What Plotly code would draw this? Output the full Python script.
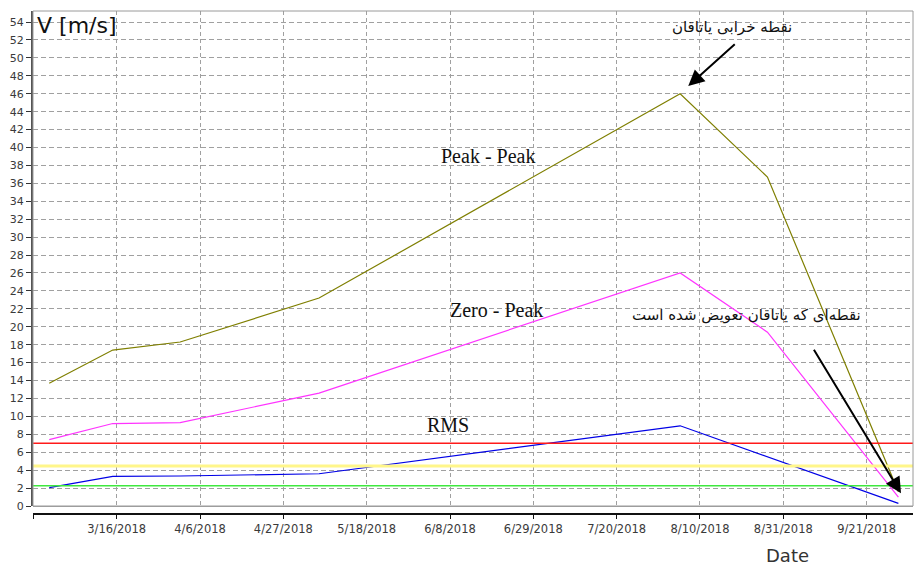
import plotly.graph_objects as go

# Measurement dates and vibration velocity readings
dates = ["2018-02-27", "2018-03-15", "2018-04-01", "2018-05-06",
         "2018-08-05", "2018-08-27", "2018-09-29"]
peak_peak = [13.7, 17.4, 18.3, 23.2, 46.0, 36.7, 1.6]
zero_peak = [7.4, 9.2, 9.3, 12.6, 26.0, 19.4, 1.0]
rms = [2.05, 3.3, 3.35, 3.6, 8.95, 5.5, 0.3]

# Alarm levels
alarm_red = 7.0
alarm_yellow = 4.45
alarm_green = 2.25

# Date axis ticks (every 21 days)
tick_dates = ["2018-02-23", "2018-03-16", "2018-04-06", "2018-04-27", "2018-05-18",
              "2018-06-08", "2018-06-29", "2018-07-20", "2018-08-10", "2018-08-31",
              "2018-09-21"]
tick_labels = ["", "3/16/2018", "4/6/2018", "4/27/2018", "5/18/2018", "6/8/2018",
               "6/29/2018", "7/20/2018", "8/10/2018", "8/31/2018", "9/21/2018"]

W, H = 914, 565
ML, MR, MT, MB = 33, 1, 11, 51
plot_h = H - MT - MB
gap_px = 8  # space between the zero line and the date axis


def px_x(px):
    return (px - ML) / (W - ML - MR)


def px_y(py):
    return (H - MB - py) / plot_h


fig = go.Figure()

# alarm levels drawn first so the measurement lines sit on top
for level, color, width in [(alarm_red, "#ff1a1a", 1.5),
                            (alarm_yellow, "#fff68a", 3),
                            (alarm_green, "#3ee83e", 1.5)]:
    fig.add_shape(type="line", xref="x domain", x0=0, x1=1, yref="y", y0=level, y1=level,
                  line=dict(color=color, width=width), layer="above")

fig.add_trace(go.Scatter(x=dates, y=peak_peak, mode="lines", name="Peak - Peak",
                         line=dict(color="#7f7f00", width=1.2)))
fig.add_trace(go.Scatter(x=dates, y=zero_peak, mode="lines", name="Zero - Peak",
                         line=dict(color="#ff33ff", width=1.2)))
fig.add_trace(go.Scatter(x=dates, y=rms, mode="lines", name="RMS",
                         line=dict(color="#0000e6", width=1.2)))

# frame around the plotting area
fig.add_shape(type="rect", xref="x domain", yref="y domain", x0=0, x1=1, y0=0, y1=1,
              line=dict(color="#9a9a9a", width=1), layer="above")

serif = dict(family="Liberation Serif, Times New Roman, serif", size=20, color="#111")
persian = dict(family="DejaVu Sans, Tahoma, sans-serif", size=15, color="#111")

annotations = [
    dict(text="Peak - Peak", x="2018-06-17 13:40", y=39.05, font=serif),
    dict(text="Zero - Peak", x="2018-06-19 20:10", y=21.87, font=serif),
    dict(text="RMS", x="2018-06-07 11:45", y=9.04, font=serif),
    dict(text="نقطه خرابی یاتاقان", x="2018-08-18 02:00", y=53.44, font=persian),
    dict(text="نقطه‌ای که یاتاقان تعویض شده است", x="2018-08-21 17:00", y=21.31,
         font=persian),
]
for a in annotations:
    fig.add_annotation(xref="x", yref="y", showarrow=False, **a)

# arrows
fig.add_annotation(xref="x", yref="y", x="2018-08-07 01:00", y=46.86, text="",
                   showarrow=True, ax=48, ay=-43, arrowhead=2, arrowsize=1.6,
                   arrowwidth=2, arrowcolor="#000")
fig.add_annotation(xref="x", yref="y", x="2018-09-29 15:50", y=1.42, text="",
                   showarrow=True, ax=-88, ay=-145, arrowhead=2, arrowsize=1.6,
                   arrowwidth=2, arrowcolor="#000")

# axis captions
fig.add_annotation(xref="paper", yref="paper", x=px_x(35), y=px_y(25), text="V [m/s]",
                   showarrow=False, xanchor="left", yanchor="middle",
                   font=dict(family="DejaVu Sans, sans-serif", size=22, color="#111"))
fig.add_annotation(xref="paper", yref="paper", x=px_x(787), y=px_y(555), text="Date",
                   showarrow=False, xanchor="center", yanchor="middle",
                   font=dict(family="DejaVu Sans, sans-serif", size=18, color="#333"))

fig.update_layout(
    width=W, height=H,
    margin=dict(l=ML, r=MR, t=MT, b=MB),
    paper_bgcolor="white", plot_bgcolor="white",
    showlegend=False,
    xaxis=dict(
        type="date",
        range=["2018-02-22 21:50", "2018-10-02 16:20"],
        tickmode="array", tickvals=tick_dates, ticktext=tick_labels,
        showgrid=True, gridcolor="#a0a0a0", griddash="4px,3px", gridwidth=1,
        ticks="outside", ticklen=4, tickcolor="#111",
        showline=True, linecolor="#111", linewidth=1.5,
        anchor="free", position=0,
        tickfont=dict(family="DejaVu Sans, sans-serif", size=11.5, color="#3a3a3a"),
        zeroline=False,
    ),
    yaxis=dict(
        range=[0, 55.23],
        domain=[gap_px / plot_h, 1],
        tickmode="linear", tick0=0, dtick=2,
        showgrid=True, gridcolor="#a0a0a0", griddash="5px,3px", gridwidth=1,
        zeroline=True, zerolinecolor="#a0a0a0", zerolinewidth=1,
        ticks="outside", ticklen=5, tickcolor="#333",
        showline=True, linecolor="#555", linewidth=2,
        tickfont=dict(family="DejaVu Sans, sans-serif", size=11, color="#3a3a3a"),
    ),
)

fig.write_html("out.html")
